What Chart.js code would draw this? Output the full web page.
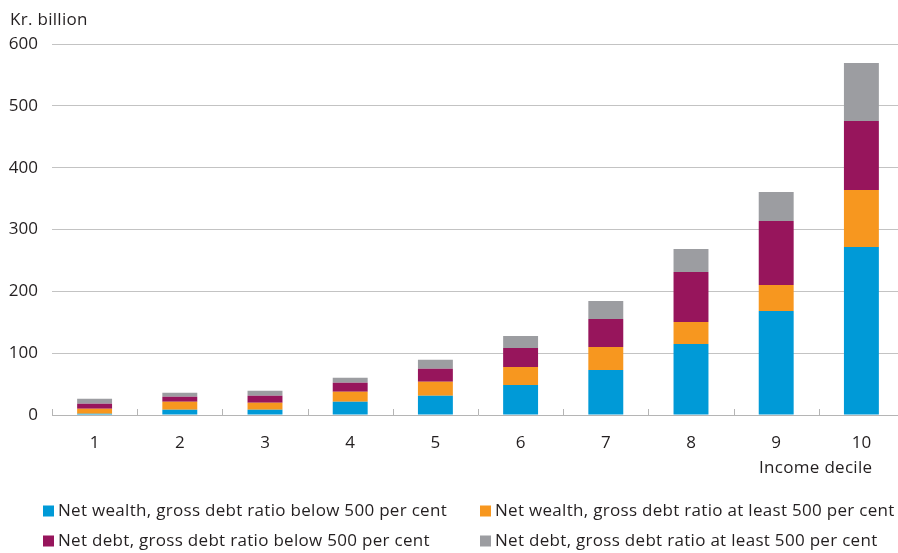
<!DOCTYPE html>
<html>
<head>
<meta charset="utf-8">
<script src="https://cdn.jsdelivr.net/npm/chart.js@4/dist/chart.umd.min.js"></script>
<style>
  html, body { margin: 0; padding: 0; background: #fff; overflow: hidden; width: 898px; height: 553px; }
  #wrap { position: absolute; left: 0; top: 0; width: 904px; height: 553px; }
</style>
</head>
<body>
<div id="wrap"><canvas id="c" width="904" height="553"></canvas></div>
<script>
const categories = ['1', '2', '3', '4', '5', '6', '7', '8', '9', '10'];
const yTicks = [0, 100, 200, 300, 400, 500, 600];
const yAxisTitle = 'Kr. billion';
const xAxisTitle = 'Income decile';
const seriesNames = [
  'Net wealth, gross debt ratio below 500 per cent',
  'Net wealth, gross debt ratio at least 500 per cent',
  'Net debt, gross debt ratio below 500 per cent',
  'Net debt, gross debt ratio at least 500 per cent'
];
const netWealthBelow = [2.2, 8.6, 8.6, 21.6, 31.3, 48.5, 72.8, 114.8, 168.2, 271.7];
const netWealthAtLeast = [8, 13, 11.4, 16.1, 22.6, 29.1, 37.2, 35.6, 42, 92.2];
const netDebtBelow = [8, 8, 11.3, 14.6, 21, 30.8, 45.3, 80.9, 103.6, 111.6];
const netDebtAtLeast = [8, 6.5, 8.1, 8.1, 14.6, 19.4, 29.1, 37.2, 46.9, 93.8];
const seriesColors = ['#009ad7', '#f7971f', '#97155c', '#9c9da1'];

const FONT = '"Open Sans", "Noto Sans", sans-serif';
const FSIZE = 17;
const TEXT = '#231f20';

const extras = {
  id: 'extras',
  afterDraw(chart) {
    const ctx = chart.ctx;
    const xs = chart.scales.x;
    const area = chart.chartArea;
    ctx.save();
    // tick marks between categories (pointing up into plot)
    ctx.strokeStyle = '#b5b5b5';
    ctx.lineWidth = 1;
    const n = categories.length;
    const w = (area.right - area.left) / n;
    for (let i = 0; i <= n; i++) {
      const x = Math.round(area.left + i * w) + 0.5;
      ctx.beginPath();
      ctx.moveTo(x, area.bottom);
      ctx.lineTo(x, area.bottom - 6);
      ctx.stroke();
    }
    ctx.fillStyle = TEXT;
    ctx.font = FSIZE + 'px ' + FONT;
    try { ctx.letterSpacing = '0.3px'; } catch (e) {}
    // y axis title
    ctx.textAlign = 'left';
    ctx.textBaseline = 'alphabetic';
    ctx.fillText(yAxisTitle, 10, 25);
    // x axis title
    ctx.textAlign = 'right';
    ctx.textBaseline = 'middle';
    ctx.fillText(xAxisTitle, xs.getPixelForValue(n - 1) + 11, 468);
    // legend
    const cols = [43, 480];
    const rows = [511, 541];
    ctx.textAlign = 'left';
    chart.data.datasets.forEach((ds, i) => {
      const x = cols[i % 2];
      const y = rows[Math.floor(i / 2)];
      ctx.fillStyle = ds.backgroundColor;
      ctx.fillRect(x, y - 5.5, 11, 11);
      ctx.fillStyle = TEXT;
      ctx.fillText(ds.label, x + 15, y);
    });
    ctx.restore();
  }
};

const seriesData = [netWealthBelow, netWealthAtLeast, netDebtBelow, netDebtAtLeast];

new Chart(document.getElementById('c'), {
  type: 'bar',
  data: {
    labels: categories,
    datasets: seriesData.map((d, i) => ({
      label: seriesNames[i],
      data: d,
      backgroundColor: seriesColors[i],
      borderWidth: 0,
      barPercentage: 0.41,
      categoryPercentage: 1
    }))
  },
  options: {
    responsive: false,
    animation: false,
    devicePixelRatio: 1,
    layout: { padding: { left: 0, right: 0, top: 44, bottom: 78 } },
    plugins: {
      legend: { display: false },
      tooltip: { enabled: false },
      title: { display: false }
    },
    scales: {
      x: {
        stacked: true,
        grid: { display: false },
        border: { display: true, color: '#b5b5b5', width: 1 },
        ticks: { color: TEXT, font: { family: FONT, size: FSIZE }, padding: 10, maxRotation: 0 },
        afterFit(scale) { scale.height = 60; }
      },
      y: {
        stacked: true,
        min: 0,
        max: 600,
        afterBuildTicks(scale) { scale.ticks = yTicks.map(v => ({ value: v })); },
        grid: {
          drawTicks: false,
          color: (c) => (c.tick && c.tick.value === 0) ? 'rgba(0,0,0,0)' : '#c3c3c3',
          lineWidth: 1
        },
        border: { display: false },
        ticks: { color: TEXT, font: { family: FONT, size: FSIZE }, padding: 14 },
        afterFit(scale) { scale.width = 52; }
      }
    }
  },
  plugins: [extras]
});
</script>
</body>
</html>
